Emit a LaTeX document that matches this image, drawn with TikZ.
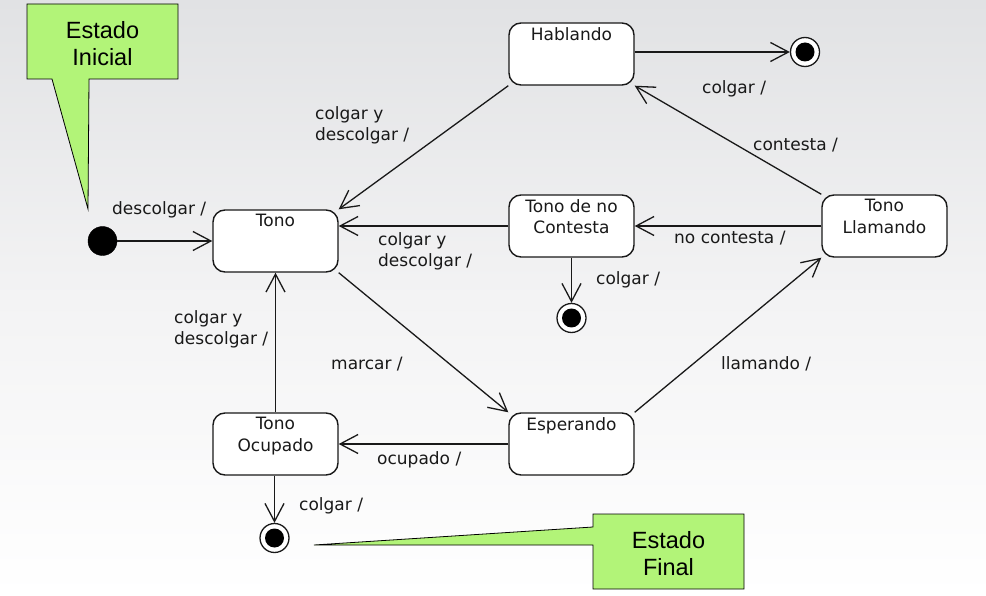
\documentclass[tikz,border=0pt]{standalone}
\usepackage{fontspec}
\setmainfont{DejaVu Sans}
\newfontfamily\callfont{Liberation Sans}
\usetikzlibrary{arrows.meta}
\definecolor{bgtop}{RGB}{225,226,228}
\definecolor{bgmid}{RGB}{243,243,244}
\definecolor{callgreen}{RGB}{178,244,120}
\definecolor{ink}{RGB}{25,25,25}
\begin{document}
\begin{tikzpicture}[x=1pt,y=-1pt,
  lbl/.style={font=\fontsize{17}{21}\selectfont, text=ink, inner sep=0pt, align=left, anchor=north west, yshift=-2.5pt},
  stat/.style={draw=ink, fill=white, rounded corners=12pt, minimum width=125pt, minimum height=62pt, line width=1.4pt, inner sep=0pt},
  stxt/.style={font=\fontsize{17}{21.5}\selectfont, text=ink, align=center, inner sep=0pt, anchor=north, yshift=-5pt},
  conn/.style={draw=ink, line width=1.3pt, -{Straight Barb[length=18pt,width=19pt,line width=1.3pt]}},
  initst/.style={circle, fill=black, draw=black, minimum size=29pt, inner sep=0pt},
  finst/.style={circle, fill=white, draw=ink, line width=1.3pt, minimum size=29pt, inner sep=0pt,
    path picture={\fill[black] (path picture bounding box.center) circle (9.5pt);}},
  callout/.style={fill=callgreen, draw=black, line width=0.8pt},
  calltxt/.style={font=\callfont\fontsize{23.5}{27}\selectfont, text=black, align=center, inner sep=0pt}
]
\useasboundingbox (0,0) rectangle (986,596);
\shade[top color=bgtop, bottom color=white, middle color=bgmid] (0,0) rectangle (986,596);

% callouts
\draw[callout] (27,4) -- (178,4) -- (178,79) -- (89,79) -- (88,209) -- (52,79) -- (27,79) -- cycle;
\node[calltxt] (ci) at (102.5,43.5) {Estado\\Inicial};
\draw[callout] (593,514) -- (744,514) -- (744,589) -- (593,589) -- (593,545) -- (314,545) -- (593,527) -- cycle;
\node[calltxt] (cf) at (668.5,553.5) {Estado\\Final};

% states
\node[stat, label={[stxt]north:Tono}] (tono) at (275.5,241) {};
\node[stat, label={[stxt]north:Hablando}] (habl) at (571.5,54) {};
\node[stat, label={[stxt]north:Tono de no\\Contesta}] (nocont) at (571.5,226) {};
\node[stat, label={[stxt]north:Tono\\Llamando}] (llam) at (884.5,226) {};
\node[stat, label={[stxt]north:Esperando}] (esp) at (571.5,444) {};
\node[stat, label={[stxt]north:Tono\\Ocupado}] (ocup) at (275.5,444) {};

\node[initst] (init) at (102.5,241) {};
\node[finst] (f1) at (805,52) {};
\node[finst] (f2) at (571.5,318) {};
\node[finst] (f3) at (274.5,538) {};

% connectors
\draw[conn] (init.east) -- (tono.west);
\draw[conn] (habl.east |- f1.west) -- (f1.west);
\draw[conn] (habl.south west) -- (tono.north east);
\draw[conn] (llam.north west) -- (habl.south east);
\draw[conn] (llam.west) -- (nocont.east);
\draw[conn] (nocont.west) -- (nocont.west -| tono.east);
\draw[conn] (f2.north |- nocont.south) -- (f2.north);
\draw[conn] (tono.south east) -- (esp.north west);
\draw[conn] (esp.north east) -- (llam.south west);
\draw[conn] (esp.west) -- (ocup.east);
\draw[conn] (ocup.north) -- (tono.south);
\draw[conn] (f3.north |- ocup.south) -- (f3.north);

% labels
\node[lbl] (l1) at (112,198.6) {descolgar /};
\node[lbl] (l2) at (315,104) {colgar y\\descolgar /};
\node[lbl] (l3) at (378,229.6) {colgar y\\descolgar /};
\node[lbl] (l4) at (596,268.6) {colgar /};
\node[lbl] (l5) at (702,77.6) {colgar /};
\node[lbl] (l6) at (753,135.6) {contesta /};
\node[lbl] (l7) at (674,228.6) {no contesta /};
\node[lbl] (l8) at (174,307.6) {colgar y\\descolgar /};
\node[lbl] (l9) at (331,354.6) {marcar /};
\node[lbl] (l10) at (377,448.6) {ocupado /};
\node[lbl] (l11) at (721,353.6) {llamando /};
\node[lbl] (l12) at (299,494.6) {colgar /};
\end{tikzpicture}
\end{document}
